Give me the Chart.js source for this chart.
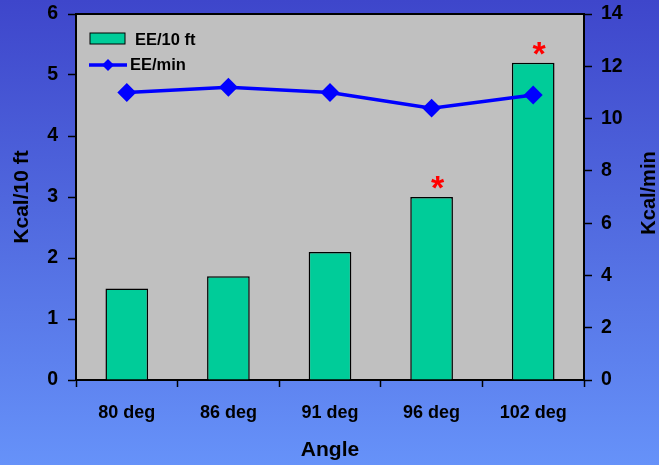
<!DOCTYPE html>
<html>
<head>
<meta charset="utf-8">
<script src="https://cdn.jsdelivr.net/npm/chart.js@4.4.1/dist/chart.umd.min.js"></script>
<style>
	html, body { margin: 0; padding: 0; }
	body { width: 659px; height: 465px; background: linear-gradient(to bottom, #3e46cb 0%, #5068de 45%, #6692f9 100%); }
	#wrap { position: relative; width: 659px; height: 465px; }
</style>
</head>
<body>
<div id="wrap"><canvas id="chart"></canvas></div>
<script>
const angles = ['80 deg', '86 deg', '91 deg', '96 deg', '102 deg'];
const eePer10ft = [1.5, 1.7, 2.1, 3.0, 5.2];
const eePerMin = [11.0, 11.2, 11.0, 10.4, 10.9];
const significant = [false, false, false, true, true];

const FAMILY = 'Liberation Sans, Arial, sans-serif';
const font = { family: FAMILY, size: 18, weight: 'bold' };
const yFont = { family: FAMILY, size: 19.5, weight: 'bold' };

// gray plot area + frame
const plotBg = {
	id: 'plotBg',
	beforeDraw: chart => {
		const { ctx, chartArea: a } = chart;
		ctx.save();
		ctx.fillStyle = '#c0c0c0';
		ctx.fillRect(a.left, a.top, a.right - a.left, a.bottom - a.top);
		ctx.strokeStyle = '#000';
		ctx.lineWidth = 2;
		ctx.beginPath();
		ctx.moveTo(a.left, a.top);
		ctx.lineTo(a.right, a.top);
		ctx.stroke();
		ctx.restore();
	}
};

const rotatedText = (ctx, text, cx, cy) => {
	ctx.save();
	ctx.translate(cx, cy);
	ctx.rotate(-Math.PI / 2);
	ctx.fillText(text, 0, 0);
	ctx.restore();
};

// legend, asterisks and axis titles
const extras = {
	id: 'extras',
	afterDraw: chart => {
		const { ctx, chartArea: a } = chart;
		const x = chart.scales.x, y = chart.scales.y;
		ctx.save();
		// asterisks
		ctx.fillStyle = '#ff0000';
		ctx.font = `bold 34px ${FAMILY}`;
		ctx.textAlign = 'center';
		ctx.textBaseline = 'alphabetic';
		significant.forEach((s, i) => {
			if (!s) return;
			ctx.fillText('*', x.getPixelForValue(i) + 6, y.getPixelForValue(eePer10ft[i]) + 2);
		});
		// legend
		const lx = a.left + 14, ly = a.top + 25;
		ctx.fillStyle = '#00cc99';
		ctx.strokeStyle = '#000';
		ctx.lineWidth = 1;
		ctx.fillRect(lx, ly - 6, 35, 11);
		ctx.strokeRect(lx, ly - 6, 35, 11);
		ctx.strokeStyle = '#0000ff';
		ctx.lineWidth = 3.5;
		ctx.beginPath();
		ctx.moveTo(lx - 1, ly + 26);
		ctx.lineTo(lx + 37, ly + 26);
		ctx.stroke();
		ctx.fillStyle = '#0000ff';
		ctx.beginPath();
		ctx.moveTo(lx + 18, ly + 20);
		ctx.lineTo(lx + 24, ly + 26);
		ctx.lineTo(lx + 18, ly + 32);
		ctx.lineTo(lx + 12, ly + 26);
		ctx.closePath();
		ctx.fill();
		ctx.fillStyle = '#000';
		ctx.font = `bold 16.5px ${FAMILY}`;
		ctx.textAlign = 'left';
		ctx.textBaseline = 'middle';
		ctx.fillText(chart.data.datasets[0].label, lx + 45, ly + 1);
		ctx.fillText(chart.data.datasets[1].label, lx + 40, ly + 26);
		// axis titles
		const midY = (a.top + a.bottom) / 2;
		ctx.textAlign = 'center';
		ctx.font = `bold 21px ${FAMILY}`;
		rotatedText(ctx, 'Kcal/10 ft', 22, midY);
		ctx.font = `bold 20px ${FAMILY}`;
		rotatedText(ctx, 'Kcal/min', 649, midY - 4);
		ctx.font = `bold 21px ${FAMILY}`;
		ctx.fillText('Angle', (a.left + a.right) / 2, 450);
		ctx.restore();
	}
};

const data = {
	labels: angles,
	datasets: [
		{
			type: 'bar',
			label: 'EE/10 ft',
			data: eePer10ft,
			yAxisID: 'y',
			backgroundColor: '#00cc99',
			borderColor: '#000',
			borderWidth: 1.5,
			barPercentage: 0.42,
			categoryPercentage: 1,
			order: 2
		},
		{
			type: 'line',
			label: 'EE/min',
			data: eePerMin,
			yAxisID: 'y1',
			borderColor: '#0000ff',
			backgroundColor: '#0000ff',
			borderWidth: 3.5,
			pointStyle: 'rectRot',
			pointRadius: 7,
			pointHoverRadius: 7,
			tension: 0,
			order: 1
		}
	]
};

const config = {
	data,
	options: {
		responsive: false,
		animation: false,
		layout: { padding: { top: 14, left: 12, right: 0, bottom: 0 } },
		plugins: { legend: { display: false }, tooltip: { enabled: false } },
		scales: {
			x: {
				offset: true,
				grid: { offset: true, drawOnChartArea: false, color: '#000', tickLength: 7, tickWidth: 1.5 },
				border: { color: '#000', width: 2 },
				ticks: { color: '#000', font, padding: 15 },
				afterFit: s => { s.height = 85; }
			},
			y: {
				position: 'left',
				min: 0,
				max: 6,
				grid: { drawOnChartArea: false, color: '#000', tickLength: 8, tickWidth: 1.5 },
				border: { color: '#000', width: 2 },
				ticks: { stepSize: 1, color: '#000', font: yFont, padding: 10 },
				afterFit: s => { s.width = 64; s.paddingTop = 0; }
			},
			y1: {
				position: 'right',
				min: 0,
				max: 14,
				grid: { drawOnChartArea: false, color: '#000', tickLength: 8, tickWidth: 1.5 },
				border: { color: '#000', width: 2 },
				ticks: { stepSize: 2, color: '#000', font: yFont, padding: 9 },
				afterFit: s => { s.width = 75; s.paddingTop = 0; }
			}
		}
	},
	plugins: [plotBg, extras]
};

const canvas = document.getElementById('chart');
canvas.width = 659;
canvas.height = 465;
new Chart(canvas, config);
</script>
</body>
</html>
